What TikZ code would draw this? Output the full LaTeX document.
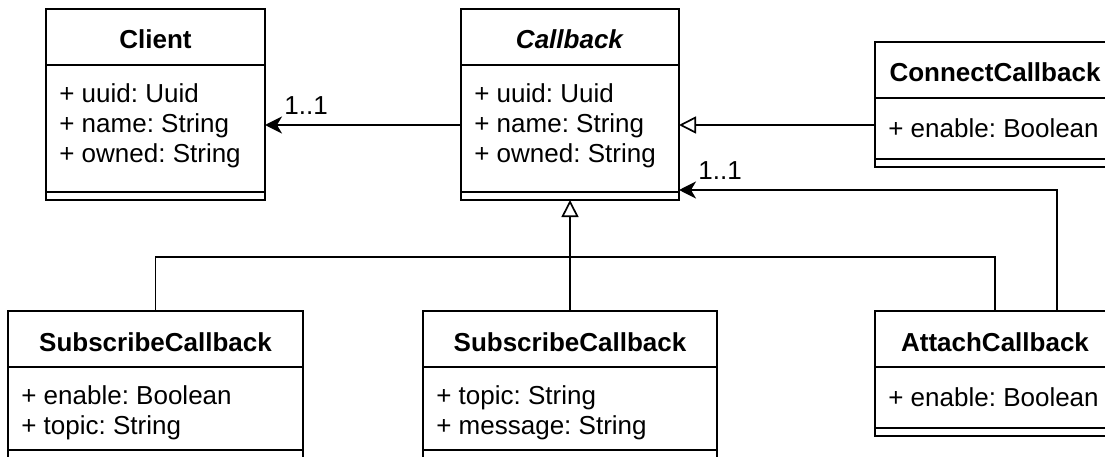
\documentclass[tikz,border=0pt]{standalone}
\usepackage{fontspec}
\setmainfont{Liberation Sans}
\frenchspacing
\usetikzlibrary{arrows.meta,positioning}

\begin{document}
\begin{tikzpicture}[x=1pt,y=-1pt,line width=1.7pt,node distance=0pt,
    classhead/.style={draw,outer sep=0pt,inner sep=0pt,minimum height=56pt,
      text height=24pt,text depth=0pt,font=\fontsize{26}{30}\selectfont\bfseries},
    classbody/.style={draw,outer sep=0pt,inner sep=0pt},
    classfoot/.style={draw,outer sep=0pt,inner sep=0pt,minimum height=8pt},
    attrtext/.style={inner sep=0pt,align=left,font=\fontsize{26}{30}\selectfont,
      execute at begin node=\strut},
    mult/.style={inner sep=0pt,anchor=base west,font=\fontsize{26}{30}\selectfont},
    assoc/.style={-{Stealth[length=17pt,width=17pt,inset=5pt]}},
    inherit/.style={-{Triangle[open,length=17pt,width=17pt]}}]
   \path[use as bounding box,clip] (0,0) rectangle (1105,457);
   % top row
   \node[classhead,minimum width=219pt] (client_h) at (155.5,37) {Client};
   \node[classbody,minimum width=219pt,minimum height=127pt] (client_b) [below=of client_h] {};
   \node[classfoot,minimum width=219pt] (client_f) [below=of client_b] {};
   \node[attrtext] (client_t) [below right=17.7pt and 12.5pt of client_b.north west]
      {+ uuid: Uuid\\+ name: String\\+ owned: String};
   \node[classhead,minimum width=218pt] (callback_h) [right=196pt of client_h] {\textit{Callback}};
   \node[classbody,minimum width=218pt,minimum height=127pt] (callback_b) [below=of callback_h] {};
   \node[classfoot,minimum width=218pt] (callback_f) [below=of callback_b] {};
   \node[attrtext] (callback_t) [below right=17.7pt and 12.5pt of callback_b.north west]
      {+ uuid: Uuid\\+ name: String\\+ owned: String};
   \node[classhead,minimum width=240pt] (connect_h) [right=196pt of callback_h,yshift=-33pt] {ConnectCallback};
   \node[classbody,minimum width=240pt,minimum height=61pt] (connect_b) [below=of connect_h] {};
   \node[classfoot,minimum width=240pt] (connect_f) [below=of connect_b] {};
   \node[attrtext] (connect_t) [below right=17.7pt and 12.5pt of connect_b.north west]
      {+ enable: Boolean};
   % bottom row
   \node[classhead,minimum width=295pt] (sub1_h) [below=111pt of client_f] {SubscribeCallback};
   \node[classbody,minimum width=295pt,minimum height=83pt] (sub1_b) [below=of sub1_h] {};
   \node[classfoot,minimum width=295pt] (sub1_f) [below=of sub1_b] {};
   \node[attrtext] (sub1_t) [below right=17.7pt and 12.5pt of sub1_b.north west]
      {+ enable: Boolean\\+ topic: String};
   \node[classhead,minimum width=294pt] (sub2_h) [below=111pt of callback_f] {SubscribeCallback};
   \node[classbody,minimum width=294pt,minimum height=83pt] (sub2_b) [below=of sub2_h] {};
   \node[classfoot,minimum width=294pt] (sub2_f) [below=of sub2_b] {};
   \node[attrtext] (sub2_t) [below right=17.7pt and 12.5pt of sub2_b.north west]
      {+ topic: String\\+ message: String};
   \node[classhead,minimum width=240pt] (attach_h) [below=144pt of connect_f] {AttachCallback};
   \node[classbody,minimum width=240pt,minimum height=61pt] (attach_b) [below=of attach_h] {};
   \node[classfoot,minimum width=240pt] (attach_f) [below=of attach_b] {};
   \node[attrtext] (attach_t) [below right=17.7pt and 12.5pt of attach_b.north west]
      {+ enable: Boolean};
   % connectors
   \coordinate[below=57pt of callback_f] (fork);
   \draw[assoc] ([yshift=3.5pt]callback_b.west) -- ([yshift=3.5pt]client_b.east)
      node[mult,at end,xshift=18.5pt,yshift=10pt] (m_client) {1..1};
   \draw[inherit] ([yshift=3.5pt]connect_b.west) -- ([yshift=3.5pt]callback_b.east);
   \draw[assoc] ([xshift=61.7pt]attach_h.north) |- ([yshift=2pt]callback_f.north east)
      node[mult,at end,xshift=18.5pt,yshift=10pt] (m_attach) {1..1};
   \draw[inherit] (sub2_h) -- (callback_f);
   \draw (sub1_h) |- (fork) -| (attach_h);
\end{tikzpicture}
\end{document}
